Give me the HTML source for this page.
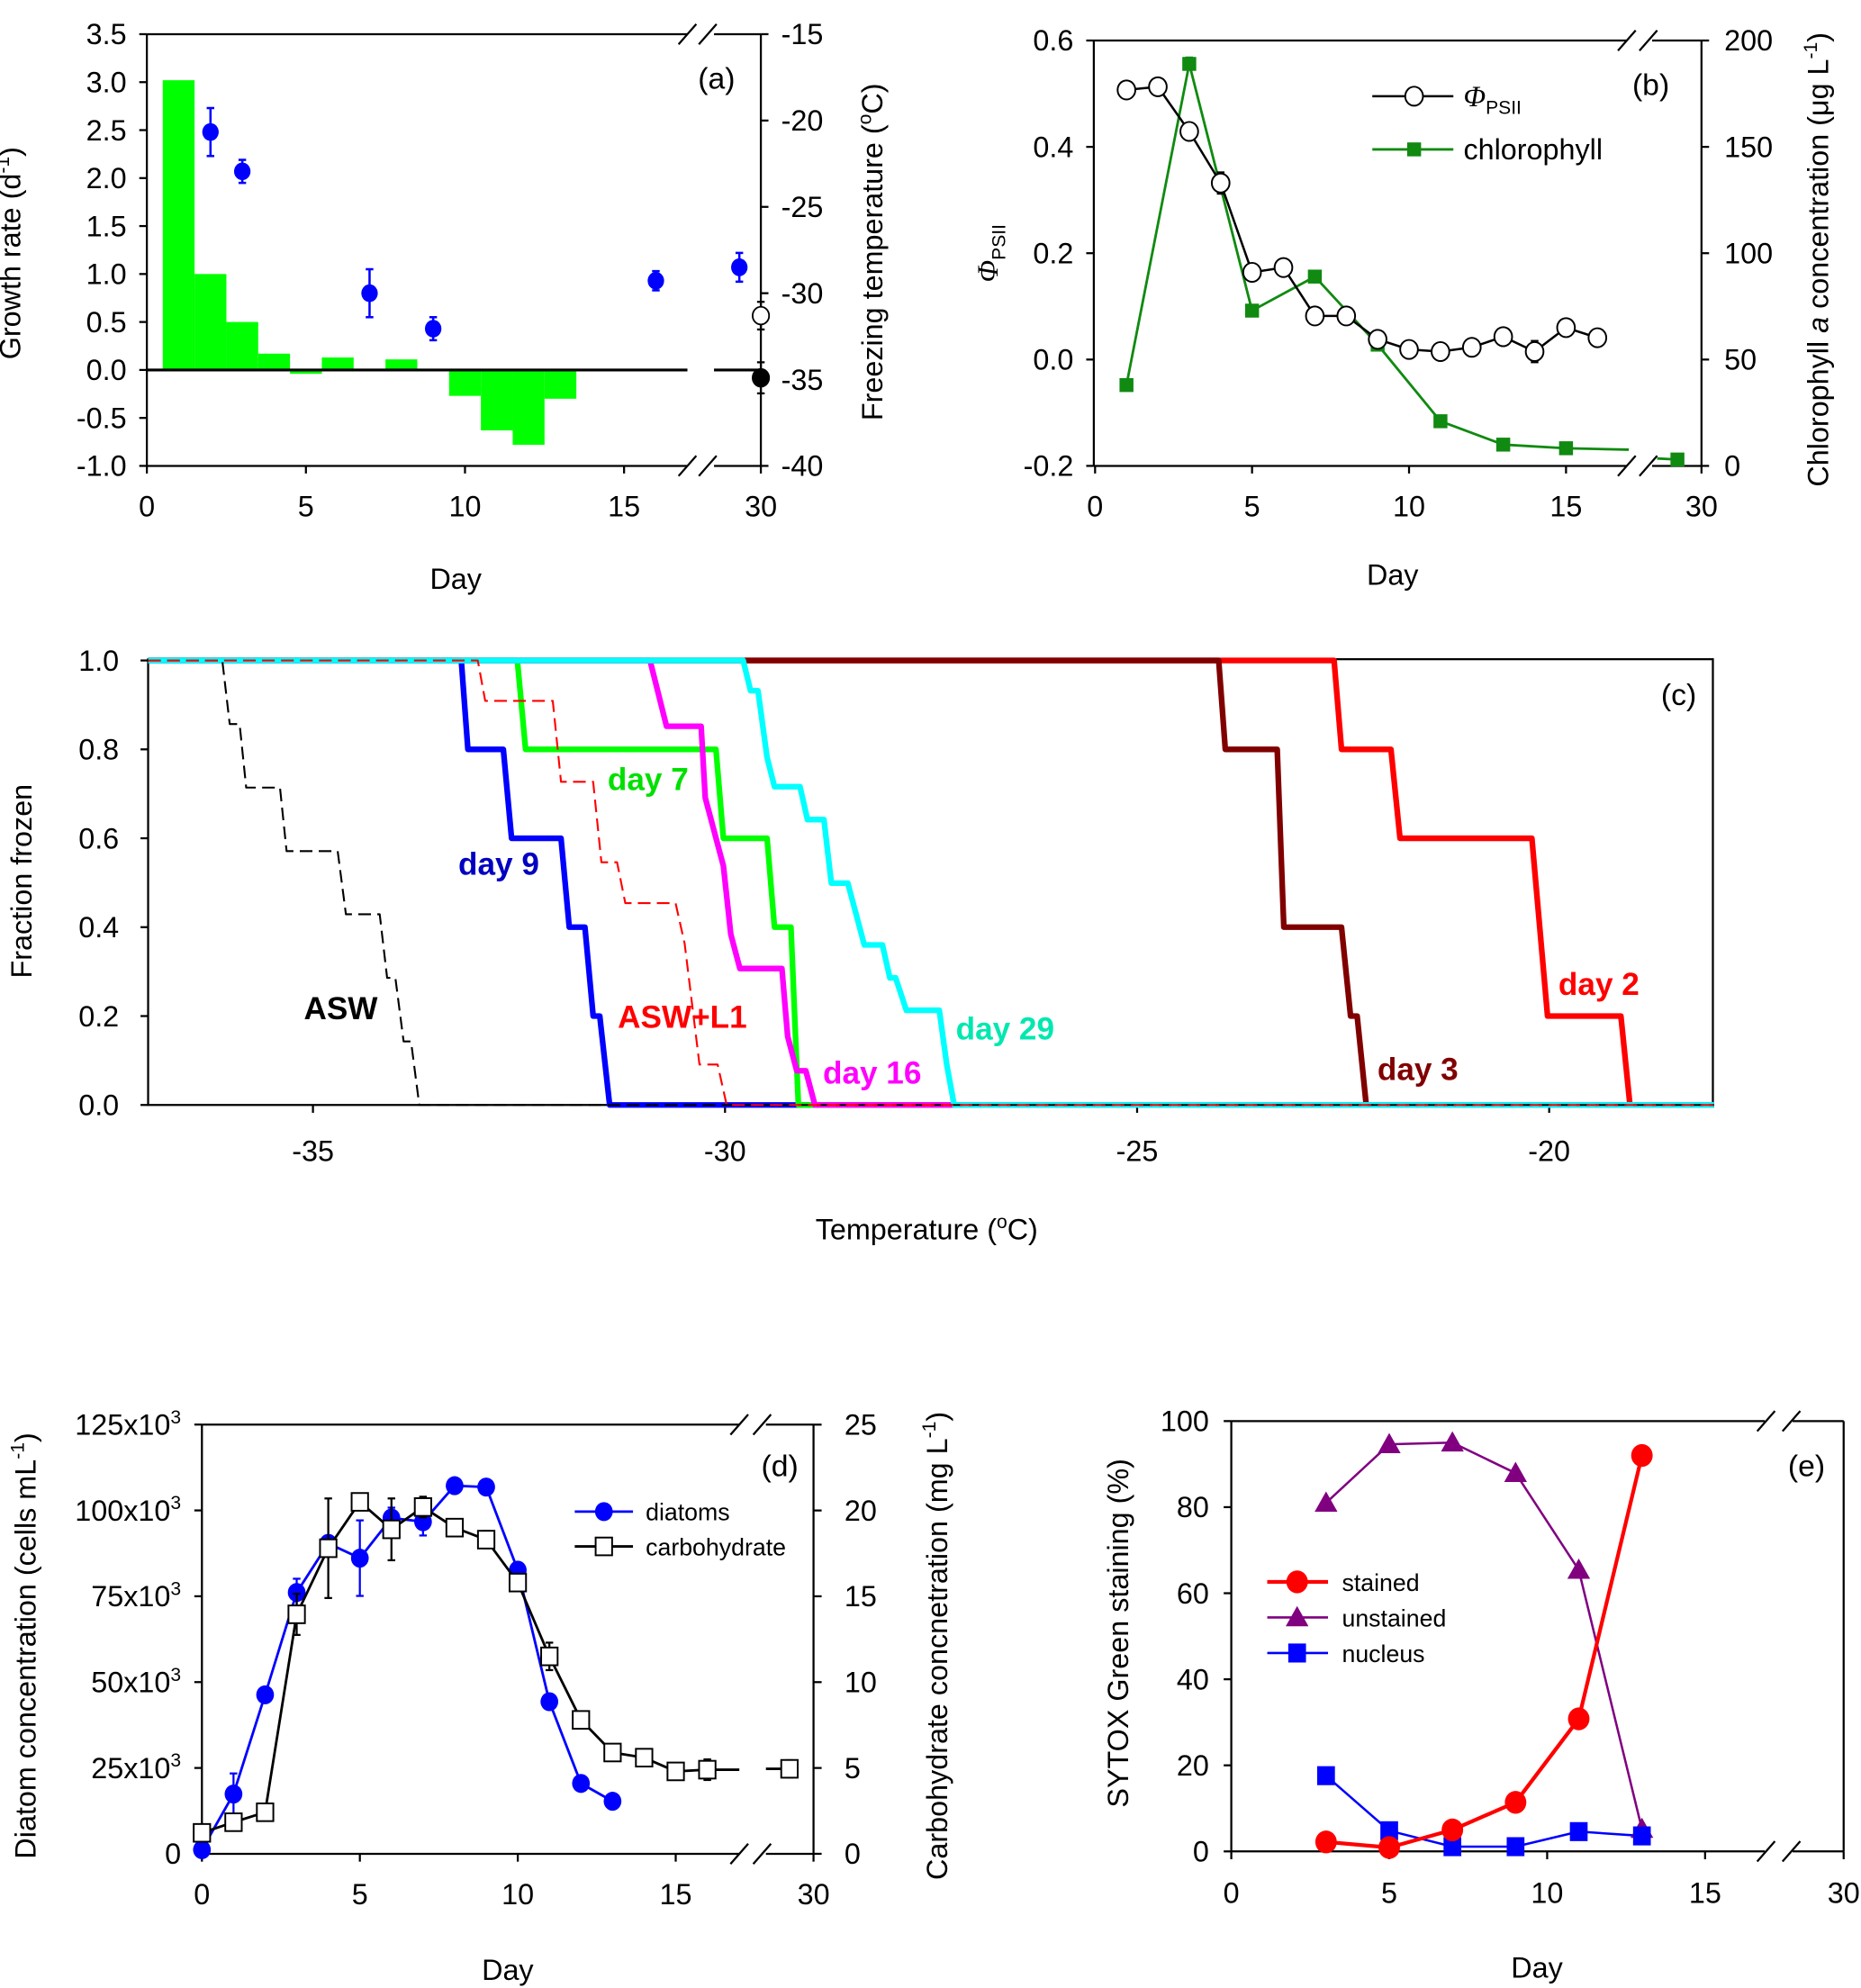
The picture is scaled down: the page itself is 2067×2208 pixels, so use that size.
<!DOCTYPE html>
<html><head><meta charset="utf-8">
<style>
html,body{margin:0;padding:0;background:#fff;}
svg{display:block;font-family:"Liberation Sans",Arial,sans-serif;}
</style></head>
<body>
<svg id="fig" xmlns="http://www.w3.org/2000/svg" width="2067" height="2208" viewBox="0 0 1470 1570.3" preserveAspectRatio="none">
<rect x="0" y="0" width="1470" height="1570.3" fill="#fff"/>
</svg>
<script>
// ---------- panel (a) data ----------
const aBarDays=[1,2,3,4,5,6,7,8,9,10,11,12,13];
const aBarVals=[3.02,1.0,0.5,0.17,-0.04,0.13,0.005,0.11,-0.01,-0.27,-0.63,-0.78,-0.3];
const aDotDays=[2,3,7,9,16,29];
const aDotVals=[2.48,2.07,0.8,0.43,0.93,1.07];
const aDotErr=[0.25,0.12,0.25,0.12,0.1,0.15];
const aFreezeVals=[-31.3,-34.9];
const aFreezeErr=[0.8,0.9];
const aLeftTicks=[3.5,3.0,2.5,2.0,1.5,1.0,0.5,0.0,-0.5,-1.0];
const aRightTicks=[-15,-20,-25,-30,-35,-40];
const dayTicks=[0,5,10,15,30];
// ---------- panel (b) data ----------
const bPhiDays=[1,2,3,4,5,6,7,8,9,10,11,12,13,14,15,16];
const bPhiVals=[0.507,0.513,0.429,0.332,0.164,0.173,0.082,0.082,0.038,0.019,0.015,0.023,0.043,0.015,0.06,0.041];
const bChlDays=[1,3,5,7,9,11,13,15,29];
const bChlVals=[38,189,73,89,57,21,10,8.3,3];
const bLeftTicks=[0.6,0.4,0.2,0.0,-0.2];
const bRightTicks=[200,150,100,50,0];
// ---------- panel (c) data ----------
const cTicksX=[-35,-30,-25,-20];
const cTicksY=[0,0.2,0.4,0.6,0.8,1.0];
const cASW_T=[-37,-36.10,-36.01,-35.89,-35.81,-35.40,-35.32,-34.70,-34.60,-34.19,-34.10,-34.00,-33.90,-33.81,-33.71,-18];
const cASW_F=[1,1,0.857,0.857,0.714,0.714,0.571,0.571,0.429,0.429,0.286,0.286,0.143,0.143,0,0];
const cL1_T=[-37,-33.00,-32.91,-32.09,-31.99,-31.60,-31.50,-31.31,-31.21,-31.08,-30.60,-30.49,-30.31,-30.09,-29.98,-18];
const cL1_F=[1,1,0.909,0.909,0.727,0.727,0.546,0.546,0.454,0.454,0.454,0.363,0.091,0.091,0,0];
const cD9_T=[-37,-33.20,-33.12,-32.69,-32.59,-31.99,-31.89,-31.70,-31.60,-31.52,-31.40,-18];
const cD9_F=[1,1,0.8,0.8,0.6,0.6,0.4,0.4,0.2,0.2,0,0];
const cD7_T=[-37,-32.52,-32.42,-30.11,-30.02,-29.49,-29.40,-29.20,-29.11,-18];
const cD7_F=[1,1,0.8,0.8,0.6,0.6,0.4,0.4,0,0];
const cD16_T=[-37,-30.91,-30.71,-30.29,-30.24,-30.02,-29.93,-29.82,-29.31,-29.24,-29.13,-29.02,-28.91,-18];
const cD16_F=[1,1,0.852,0.852,0.691,0.538,0.384,0.307,0.307,0.154,0.077,0.077,0,0];
const cD29_T=[-37,-29.78,-29.69,-29.60,-29.49,-29.40,-29.09,-29.00,-28.80,-28.71,-28.51,-28.31,-28.09,-28.00,-27.93,-27.80,-27.40,-27.31,-27.22,-18];
const cD29_F=[1,1,0.932,0.932,0.782,0.716,0.716,0.642,0.642,0.499,0.499,0.36,0.36,0.286,0.286,0.213,0.213,0.091,0,0];
const cD3_T=[-37,-24.01,-23.93,-23.30,-23.22,-22.52,-22.41,-22.33,-22.22,-18];
const cD3_F=[1,1,0.8,0.8,0.4,0.4,0.2,0.2,0,0];
const cD2_T=[-37,-22.61,-22.52,-21.92,-21.81,-20.21,-20.02,-19.13,-19.02,-18];
const cD2_F=[1,1,0.8,0.8,0.6,0.6,0.2,0.2,0,0];
// ---------- panel (d) data ----------
const dDiaDays=[0,1,2,3,4,5,6,7,8,9,10,11,12,13];
const dDiaVals=[1.2,17.4,46.3,76.1,90.4,86.1,97.8,96.7,107.2,106.8,82.6,44.3,20.5,15.3];
const dDiaErr=[0,6,2,4,2,11,3,4,2,1,1,0,0,0];
const dCarbDays=[0,1,2,3,4,5,6,7,8,9,10,11,12,13,14,15,16,29];
const dCarbVals=[1.22,1.84,2.42,13.95,17.8,20.5,18.9,20.2,19.0,18.3,15.8,11.5,7.8,5.9,5.6,4.8,4.9,4.95];
const dCarbErr=[0,0,0,1.2,2.9,0.3,1.8,0.6,0,0.5,0.4,0.8,0,0,0,0,0.6,0.5];
const dLeftTicks=[0,25,50,75,100,125];
const dRightTicks=[0,5,10,15,20,25];
// ---------- panel (e) data ----------
const eDays=[3,5,7,9,11,13];
const eStained=[2.2,0.9,5,11.4,30.8,92];
const eUnstained=[81,94.6,95,87.9,65.4,5.2];
const eNucleus=[17.6,4.8,1.1,1.1,4.6,3.6];
const eTicks=[0,20,40,60,80,100];

const NS='http://www.w3.org/2000/svg';
const svg=document.getElementById('fig');
function mk(tag,attrs,parent){const e=document.createElementNS(NS,tag);for(const k in attrs)e.setAttribute(k,attrs[k]);(parent||svg).appendChild(e);return e;}
function nm(e,n){
  
  
  return e;
}
function txt(x,y,s,o){o=o||{};const t=mk('text',{x:x,y:y,'font-size':o.fs||23,'text-anchor':o.anchor||'middle',fill:o.fill||'#000','font-weight':o.fw||'normal','font-style':o.fi||'normal'});if(o.rot)t.setAttribute('transform','rotate('+o.rot+' '+x+' '+y+')');t.textContent=s;return t;}
function line(x1,y1,x2,y2,o){o=o||{};return mk('line',{x1:x1,y1:y1,x2:x2,y2:y2,stroke:o.c||'#000','stroke-width':o.w||1.6,'stroke-dasharray':o.dash||'none'});}
function poly(pts,o){return mk('polyline',{points:pts.map(p=>p[0].toFixed(2)+','+p[1].toFixed(2)).join(' '),fill:'none',stroke:o.c,'stroke-width':o.w,'stroke-dasharray':o.dash||'none','stroke-linejoin':'round'});}
function brk(x,y){const g=mk('g',{});mk('line',{x1:x-7,y1:y+8,x2:x+7,y2:y-8,stroke:'#000','stroke-width':1.6},g);return g;}

// ================= PANEL A =================
const xa=d=>d<=20?116+d*25.13:601-(30-d)*17;
const ya=v=>27+(3.5-v)*(341/4.5);
const yaR=t=>27+(-15-t)*(341/25);
{
 const g=nm(mk('g',{}),'panel-a');
 nm(line(116,27,543,27),'panel-a-top-border');nm(line(564,27,601,27),'panel-a-top-border-right');
 nm(line(116,368,543,368),'panel-a-x-axis');nm(line(564,368,601,368),'panel-a-x-axis-right');
 nm(line(116,27,116,368),'panel-a-left-axis');nm(line(601,27,601,368),'panel-a-right-axis');
 nm(brk(543,27),'axis-break');nm(brk(559,27),'axis-break');nm(brk(543,368),'axis-break');nm(brk(559,368),'axis-break');
 aLeftTicks.forEach(v=>{nm(line(110,ya(v),116,ya(v)),'y-tick');nm(txt(100,ya(v)+8,v.toFixed(1),{anchor:'end'}),'y-tick-label');});
 aRightTicks.forEach(v=>{nm(line(601,yaR(v),607,yaR(v)),'right-y-tick');nm(txt(617,yaR(v)+8,String(v),{anchor:'start'}),'right-y-tick-label');});
 dayTicks.forEach(d=>{nm(line(xa(d),368,xa(d),374),'x-tick');nm(txt(xa(d),408,String(d)),'x-tick-label');});
 aBarDays.forEach((d,i)=>{const v=aBarVals[i];const r=mk('rect',{x:xa(d-0.5),y:Math.min(ya(v),ya(0)),width:xa(d+0.5)-xa(d-0.5),height:Math.abs(ya(v)-ya(0)),fill:'#00ff00'});
  
  });
 nm(line(116,ya(0),543,ya(0),{w:2.2}),'zero-line');nm(line(564,ya(0),601,ya(0),{w:2.2}),'zero-line-right');
 aDotDays.forEach((d,i)=>{const x=xa(d),v=aDotVals[i],e=aDotErr[i];
  const eb=line(x,ya(v+e),x,ya(v-e),{c:'#0000ff',w:1.8});
  line(x-3,ya(v+e),x+3,ya(v+e),{c:'#0000ff',w:1.8});line(x-3,ya(v-e),x+3,ya(v-e),{c:'#0000ff',w:1.8});
  const c=mk('ellipse',{cx:x,cy:ya(v),rx:6.5,ry:7,fill:'#0000ff'});
  
  });
 aFreezeVals.forEach((t,i)=>{const x=601,e=aFreezeErr[i];
  line(x,yaR(t+e),x,yaR(t-e),{w:1.6});line(x-3,yaR(t+e),x+3,yaR(t+e));line(x-3,yaR(t-e),x+3,yaR(t-e));
  const c=mk('ellipse',{cx:x,cy:yaR(t),rx:6.5,ry:7,fill:i==0?'#fff':'#000',stroke:'#000','stroke-width':1.3});
  
  });
 nm(txt(566,70,'(a)',{fs:24}),'panel-a-label');
 nm(txt(360,465,'Day',{fs:23}),'panel-a-x-title');
 const yl=txt(16,200,'',{fs:23,rot:-90});yl.innerHTML='Growth rate (d<tspan font-size="15" dy="-9">-1</tspan><tspan dy="9">)</tspan>';nm(yl,'panel-a-y-title');
 const yr=txt(697,199,'',{fs:23,rot:-90});yr.innerHTML='Freezing temperature (<tspan font-size="15" dy="-9">o</tspan><tspan dy="9">C)</tspan>';nm(yr,'panel-a-right-y-title');
}
// ================= PANEL B =================
const xb=d=>d<=20?865+d*24.8:1344-(30-d)*19;
const yb=v=>32+(0.6-v)*420;
const ybR=c=>368-c*1.68;
{
 nm(mk('g',{}),'panel-b');
 nm(line(864,32,1285,32),'panel-b-top-border');nm(line(1305,32,1344,32),'panel-b-top-border-right');
 nm(line(864,368,1285,368),'panel-b-x-axis');nm(line(1305,368,1344,368),'panel-b-x-axis-right');
 nm(line(864,32,864,368),'panel-b-left-axis');nm(line(1344,32,1344,368),'panel-b-right-axis');
 nm(brk(1285,32),'axis-break');nm(brk(1302,32),'axis-break');nm(brk(1285,368),'axis-break');nm(brk(1302,368),'axis-break');
 bLeftTicks.forEach(v=>{nm(line(858,yb(v),864,yb(v)),'y-tick');nm(txt(848,yb(v)+8,v.toFixed(1),{anchor:'end'}),'y-tick-label');});
 bRightTicks.forEach(v=>{nm(line(1344,ybR(v),1350,ybR(v)),'right-y-tick');nm(txt(1362,ybR(v)+8,String(v),{anchor:'start'}),'right-y-tick-label');});
 dayTicks.forEach(d=>{nm(line(xb(d),368,xb(d),374),'x-tick');nm(txt(xb(d),408,String(d)),'x-tick-label');});
 const chlPts=bChlDays.slice(0,8).map((d,i)=>[xb(d),ybR(bChlVals[i])]);
 const endV=bChlVals[7]-0.9*(bChlVals[7]-bChlVals[8])/ (29-15)*2;
 chlPts.push([xb(17),ybR(endV)]);
 nm(poly(chlPts,{c:'#108a10',w:2}),'chlorophyll-line');
 nm(line(1309,ybR(bChlVals[8]+0.5),xb(29),ybR(bChlVals[8]),{c:'#108a10',w:2}),'chlorophyll-line-after-break');
 line(xb(3),ybR(192),xb(3),ybR(186),{c:'#108a10'});line(xb(3)-3,ybR(192),xb(3)+3,ybR(192),{c:'#108a10'});
 line(xb(7),ybR(92),xb(7),ybR(86),{c:'#108a10'});
 bChlDays.forEach((d,i)=>{const r=mk('rect',{x:xb(d)-5.5,y:ybR(bChlVals[i])-5.5,width:11,height:11,fill:'#108a10'});
  
  });
 nm(poly(bPhiDays.map((d,i)=>[xb(d),yb(bPhiVals[i])]),{c:'#000',w:1.8}),'phi-psii-line');
 [[4,0.02],[14,0.02],[16,0.015]].forEach(p=>{const i=bPhiDays.indexOf(p[0]);const x=xb(p[0]),v=bPhiVals[i];line(x,yb(v+p[1]),x,yb(v-p[1]));line(x-3,yb(v+p[1]),x+3,yb(v+p[1]));line(x-3,yb(v-p[1]),x+3,yb(v-p[1]));});
 bPhiDays.forEach((d,i)=>{const c=mk('ellipse',{cx:xb(d),cy:yb(bPhiVals[i]),rx:7,ry:7.5,fill:'#fff',stroke:'#000','stroke-width':1.4});
  
  });
 const lg=nm(mk('g',{}),'panel-b-legend');
 line(1084,76,1148,76,{w:1.8});mk('ellipse',{cx:1117,cy:76,rx:7,ry:7.5,fill:'#fff',stroke:'#000','stroke-width':1.4});
 const lt=txt(1156,84,'',{anchor:'start',fs:23});lt.innerHTML='<tspan font-style="italic" font-family="Liberation Serif">Φ</tspan><tspan font-size="15" dy="6">PSII</tspan>';nm(lt,'legend-phi-psii');
 line(1084,118,1148,118,{c:'#108a10',w:2});mk('rect',{x:1111.5,y:112.5,width:11,height:11,fill:'#108a10'});
 nm(txt(1156,126,'chlorophyll',{anchor:'start',fs:23}),'legend-chlorophyll');
 nm(txt(1304,75,'(b)',{fs:24}),'panel-b-label');
 nm(txt(1100,462,'Day',{fs:23}),'panel-b-x-title');
 const yl=txt(788,200,'',{fs:23,rot:-90});yl.innerHTML='<tspan font-style="italic" font-family="Liberation Serif">Φ</tspan><tspan font-size="15" dy="6">PSII</tspan>';nm(yl,'panel-b-y-title');
 const yr=txt(1444,205,'',{fs:23,rot:-90});yr.innerHTML='Chlorophyll <tspan font-style="italic">a</tspan> concentration (μg L<tspan font-size="15" dy="-9">-1</tspan><tspan dy="9">)</tspan>';nm(yr,'panel-b-right-y-title');
}
// ================= PANEL C =================
const xc=t=>247.2+(t+35)*65.1;
const yc=f=>872.8-f*351.1;
{
 nm(mk('g',{}),'panel-c');
 nm(mk('rect',{x:117,y:520.7,width:1236,height:352.1,fill:'none',stroke:'#000','stroke-width':1.6}),'panel-c-frame');
 cTicksY.forEach(v=>{nm(line(111,yc(v),117,yc(v)),'y-tick');nm(txt(94,yc(v)+8,v.toFixed(1),{anchor:'end'}),'y-tick-label');});
 cTicksX.forEach(v=>{nm(line(xc(v),872.8,xc(v),879),'x-tick');nm(txt(xc(v),917,String(v)),'x-tick-label');});
 const series=[
  [cD2_T,cD2_F,'#ff0000',4.5,null,'day2-curve'],
  [cD3_T,cD3_F,'#800000',4.5,null,'day3-curve'],
  [cD9_T,cD9_F,'#0000ff',4.5,null,'day9-curve'],
  [cD7_T,cD7_F,'#00ff00',4.5,null,'day7-curve'],
  [cD16_T,cD16_F,'#ff00ff',4.5,null,'day16-curve'],
  [cD29_T,cD29_F,'#00ffff',4.5,null,'day29-curve'],
  [cASW_T,cASW_F,'#000',1.5,'10,5','asw-curve'],
  [cL1_T,cL1_F,'#ff0000',1.5,'10,5','asw-l1-curve']];
 series.forEach(s=>{const pts=s[0].map((t,i)=>[xc(t),yc(s[1][i])]);const p=poly(pts,{c:s[2],w:s[3],dash:s[4]});
  
  });
 nm(txt(240,805,'ASW',{anchor:'start',fs:25,fw:'bold'}),'asw-label');
 nm(txt(362,691,'day 9',{anchor:'start',fs:25,fw:'bold',fill:'#0000c0'}),'day9-label');
 nm(txt(480,624,'day 7',{anchor:'start',fs:25,fw:'bold',fill:'#00e000'}),'day7-label');
 nm(txt(488,812,'ASW+L1',{anchor:'start',fs:25,fw:'bold',fill:'#ff0000'}),'asw-l1-label');
 nm(txt(650,856,'day 16',{anchor:'start',fs:25,fw:'bold',fill:'#ff00ff'}),'day16-label');
 nm(txt(755,821,'day 29',{anchor:'start',fs:25,fw:'bold',fill:'#00e8b0'}),'day29-label');
 nm(txt(1088,853,'day 3',{anchor:'start',fs:25,fw:'bold',fill:'#800000'}),'day3-label');
 nm(txt(1231,786,'day 2',{anchor:'start',fs:25,fw:'bold',fill:'#ff0000'}),'day2-label');
 nm(txt(1326,557,'(c)',{fs:24}),'panel-c-label');
 const xt=txt(732,979,'',{fs:23});xt.innerHTML='Temperature (<tspan font-size="15" dy="-9">o</tspan><tspan dy="9">C)</tspan>';nm(xt,'panel-c-x-title');
 nm(txt(25,696,'Fraction frozen',{fs:23,rot:-90}),'panel-c-y-title');
}
// ================= PANEL D =================
const xd=d=>d<=20?159.5+d*24.95:642.6-(30-d)*19;
const yd=k=>1464.3-k*2.7124;
const ydR=c=>1464.3-c*13.56;
{
 nm(mk('g',{}),'panel-d');
 nm(line(159.5,1125.3,584,1125.3),'panel-d-top-border');nm(line(605,1125.3,642.6,1125.3),'panel-d-top-border-right');
 nm(line(159.5,1464.3,584,1464.3),'panel-d-x-axis');nm(line(605,1464.3,642.6,1464.3),'panel-d-x-axis-right');
 nm(line(159.5,1125.3,159.5,1464.3),'panel-d-left-axis');nm(line(642.6,1125.3,642.6,1464.3),'panel-d-right-axis');
 nm(brk(584,1125.3),'axis-break');nm(brk(602,1125.3),'axis-break');nm(brk(584,1464.3),'axis-break');nm(brk(602,1464.3),'axis-break');
 dLeftTicks.forEach(v=>{nm(line(153.5,yd(v),159.5,yd(v)),'y-tick');const t=txt(143,yd(v)+8,'',{anchor:'end'});
  t.innerHTML=v===0?'0':v+'x10<tspan font-size="15" dy="-9">3</tspan>';
  
  });
 dRightTicks.forEach(v=>{nm(line(642.6,ydR(v),649,ydR(v)),'right-y-tick');nm(txt(667,ydR(v)+8,String(v),{anchor:'start'}),'right-y-tick-label');});
 dayTicks.forEach(d=>{nm(line(xd(d),1464.3,xd(d),1470.5),'x-tick');nm(txt(xd(d),1504,String(d)),'x-tick-label');});
 nm(poly(dDiaDays.map((d,i)=>[xd(d),yd(dDiaVals[i])]),{c:'#0000ff',w:2}),'diatoms-line');
 dDiaDays.forEach((d,i)=>{const e=dDiaErr[i];if(e>0){const x=xd(d),v=dDiaVals[i];line(x,yd(v+e),x,yd(v-e),{c:'#0000ff'});line(x-3,yd(v+e),x+3,yd(v+e),{c:'#0000ff'});line(x-3,yd(v-e),x+3,yd(v-e),{c:'#0000ff'});}});
 dDiaDays.forEach((d,i)=>{const c=mk('ellipse',{cx:xd(d),cy:yd(dDiaVals[i]),rx:7,ry:7.5,fill:'#0000ff'});
  
  });
 const cp=dCarbDays.slice(0,17).map((d,i)=>[xd(d),ydR(dCarbVals[i])]);cp.push([584,ydR(dCarbVals[16])]);
 nm(poly(cp,{c:'#000',w:2}),'carbohydrate-line');
 nm(line(605,ydR(dCarbVals[17]),xd(29),ydR(dCarbVals[17]),{w:2}),'carbohydrate-line-after-break');
 dCarbDays.forEach((d,i)=>{const e=dCarbErr[i];if(e>0){const x=xd(d),v=dCarbVals[i];line(x,ydR(v+e),x,ydR(v-e));line(x-3,ydR(v+e),x+3,ydR(v+e));line(x-3,ydR(v-e),x+3,ydR(v-e));}});
 dCarbDays.forEach((d,i)=>{const r=mk('rect',{x:xd(d)-6.5,y:ydR(dCarbVals[i])-7,width:13,height:14,fill:'#fff',stroke:'#000','stroke-width':1.4});
  
  });
 nm(mk('g',{}),'panel-d-legend');
 line(454,1194,500,1194,{c:'#0000ff',w:2});mk('ellipse',{cx:477,cy:1194,rx:7,ry:7.5,fill:'#0000ff'});
 nm(txt(510,1201,'diatoms',{anchor:'start',fs:19}),'legend-diatoms');
 line(454,1221.5,500,1221.5,{w:2});mk('rect',{x:470.5,y:1214.5,width:13,height:14,fill:'#fff',stroke:'#000','stroke-width':1.4});
 nm(txt(510,1228.5,'carbohydrate',{anchor:'start',fs:19}),'legend-carbohydrate');
 nm(txt(616,1166,'(d)',{fs:24}),'panel-d-label');
 nm(txt(401,1564,'Day',{fs:23}),'panel-d-x-title');
 const yl=txt(28,1300,'',{fs:23,rot:-90});yl.innerHTML='Diatom concentration (cells mL<tspan font-size="15" dy="-9">-1</tspan><tspan dy="9">)</tspan>';nm(yl,'panel-d-y-title');
 const yr=txt(748,1300,'',{fs:23,rot:-90});yr.innerHTML='Carbohydrate concnetration (mg L<tspan font-size="15" dy="-9">-1</tspan><tspan dy="9">)</tspan>';nm(yr,'panel-d-right-y-title');
}
// ================= PANEL E =================
const xe=d=>d<=20?972.6+d*24.95:1456.3-(30-d)*19;
const ye=v=>1462.4-v*3.399;
{
 nm(mk('g',{}),'panel-e');
 nm(line(972.6,1122.5,1394,1122.5),'panel-e-top-border');nm(line(1416,1122.5,1456.3,1122.5),'panel-e-top-border-right');
 nm(line(972.6,1462.4,1394,1462.4),'panel-e-x-axis');nm(line(1416,1462.4,1456.3,1462.4),'panel-e-x-axis-right');
 nm(line(972.6,1122.5,972.6,1462.4),'panel-e-left-axis');nm(line(1456.3,1122.5,1456.3,1462.4),'panel-e-right-axis');
 nm(brk(1395,1122.5),'axis-break');nm(brk(1415,1122.5),'axis-break');nm(brk(1395,1462.4),'axis-break');nm(brk(1415,1462.4),'axis-break');
 eTicks.forEach(v=>{nm(line(966.6,ye(v),972.6,ye(v)),'y-tick');nm(txt(955,ye(v)+8,String(v),{anchor:'end'}),'y-tick-label');});
 dayTicks.forEach(d=>{nm(line(xe(d),1462.4,xe(d),1468.6),'x-tick');nm(txt(xe(d),1503,String(d)),'x-tick-label');});
 nm(poly(eDays.map((d,i)=>[xe(d),ye(eUnstained[i])]),{c:'#800080',w:1.8}),'unstained-line');
 nm(poly(eDays.map((d,i)=>[xe(d),ye(eNucleus[i])]),{c:'#0000ff',w:1.8}),'nucleus-line');
 nm(poly(eDays.map((d,i)=>[xe(d),ye(eStained[i])]),{c:'#ff0000',w:3}),'stained-line');
 eDays.forEach((d,i)=>{const x=xe(d),y=ye(eUnstained[i]);const p=mk('polygon',{points:(x-9)+','+(y+7)+' '+(x+9)+','+(y+7)+' '+x+','+(y-9),fill:'#800080'});
  
  });
 eDays.forEach((d,i)=>{const r=mk('rect',{x:xe(d)-7,y:ye(eNucleus[i])-7.5,width:14,height:15,fill:'#0000ff'});
  
  });
 eDays.forEach((d,i)=>{const c=mk('ellipse',{cx:xe(d),cy:ye(eStained[i]),rx:8.5,ry:9,fill:'#ff0000'});
  
  });
 nm(mk('g',{}),'panel-e-legend');
 line(1001,1249.5,1049,1249.5,{c:'#ff0000',w:3});mk('ellipse',{cx:1024.6,cy:1249.5,rx:8.5,ry:9,fill:'#ff0000'});
 nm(txt(1060,1256.5,'stained',{anchor:'start',fs:19}),'legend-stained');
 line(1001,1277.6,1049,1277.6,{c:'#800080',w:1.8});mk('polygon',{points:'1015.6,1284.6 1033.6,1284.6 1024.6,1268.6',fill:'#800080'});
 nm(txt(1060,1284.6,'unstained',{anchor:'start',fs:19}),'legend-unstained');
 line(1001,1305.7,1049,1305.7,{c:'#0000ff',w:1.8});mk('rect',{x:1017.6,y:1298.2,width:14,height:15,fill:'#0000ff'});
 nm(txt(1060,1312.7,'nucleus',{anchor:'start',fs:19}),'legend-nucleus');
 nm(txt(1427,1166,'(e)',{fs:24}),'panel-e-label');
 nm(txt(1214,1562,'Day',{fs:23}),'panel-e-x-title');
 nm(txt(891,1290,'SYTOX Green staining (%)',{fs:23,rot:-90}),'panel-e-y-title');
}
</script>
</body></html>
